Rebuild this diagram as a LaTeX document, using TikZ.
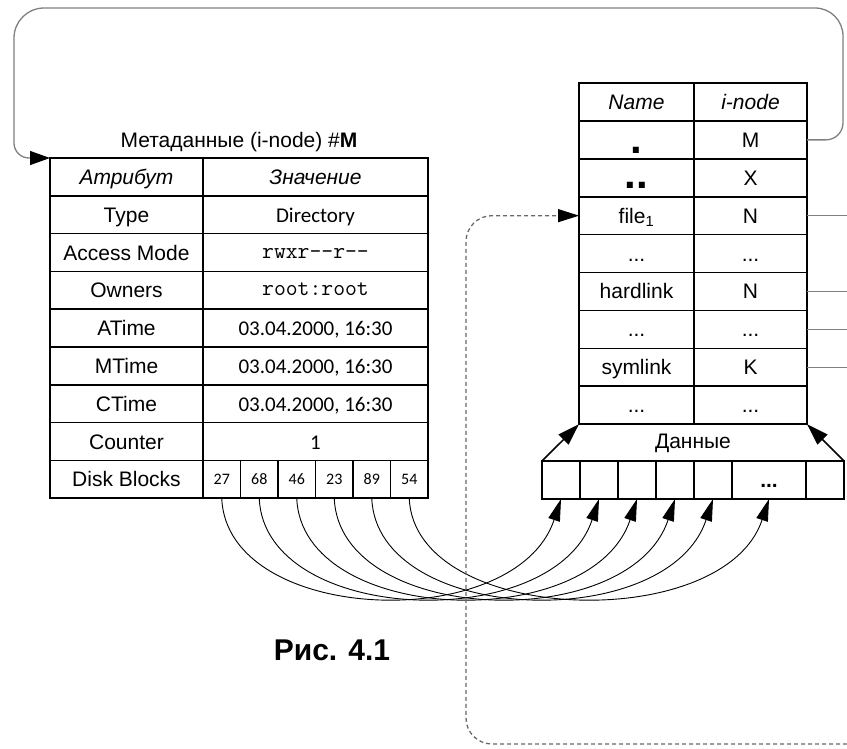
\documentclass[tikz,border=0pt]{standalone}
\usepackage{fontspec}
\setmainfont{Liberation Sans}
\newfontfamily\calfont{Carlito}
\usetikzlibrary{arrows.meta}
\definecolor{lgray}{RGB}{128,128,128}
\definecolor{dgray}{RGB}{105,105,105}
\begin{document}
\begin{tikzpicture}[x=1pt,y=-1pt,
  base/.style={draw, outer sep=0pt, inner sep=0pt, anchor=north west, text height=15pt, text depth=0pt, font=\fontsize{21}{25}\selectfont},
  lcell/.style={base, line width=1.6pt, minimum height=37.8pt},
  rcell/.style={base, line width=1.6pt, minimum height=37.9pt},
  lhead/.style={lcell, line width=2.4pt, font=\fontsize{21}{25}\selectfont\itshape},
  rhead/.style={rcell, line width=2.4pt, font=\fontsize{21}{25}\selectfont\itshape},
  cal/.style={font=\calfont\fontsize{21}{25}\selectfont},
  mono/.style={font=\ttfamily\fontsize{23}{25}\selectfont, text height=11pt},
  blk/.style={base, line width=1.6pt, minimum height=38pt},
  num/.style={lcell, minimum width=37.5pt, font=\calfont\fontsize{16}{18}\selectfont, text height=10pt},
  gline/.style={draw=lgray, line width=1.3pt},
  loopline/.style={draw=lgray, line width=1.3pt, -{Triangle[length=20pt,width=14pt,color=black]}},
  dline/.style={draw=dgray, line width=1.3pt, dash pattern=on 4pt off 3pt, rounded corners=26pt, -{Triangle[length=21pt,width=13pt,color=black]}},
  curve/.style={draw, line width=0.9pt, -{Triangle[length=22pt,width=12pt]}},
  diag/.style={draw, line width=1.5pt, -{Triangle[length=22pt,width=14pt]}},
  plain/.style={inner sep=0pt, outer sep=0pt}
]
\useasboundingbox (0,0) rectangle (847,748);

% ---------- left table ----------
\node[plain, anchor=base, font=\fontsize{21}{25}\selectfont] (title) at (239,147) {Метаданные (i-node) \#\textbf{M}};

\node[lcell, minimum width=153pt] (La1) at (50,195.8) {Type};
\node[lcell, cal, minimum width=225pt] (Lb1) at (203,195.8) {Directory};
\node[lcell, minimum width=153pt] (La2) at (50,233.6) {Access Mode};
\node[lcell, mono, minimum width=225pt] (Lb2) at (203,233.6) {rwxr-{}-r-{}-};
\node[lcell, minimum width=153pt] (La3) at (50,271.4) {Owners};
\node[lcell, mono, minimum width=225pt] (Lb3) at (203,271.4) {root:root};
\node[lcell, minimum width=153pt] (La4) at (50,309.2) {ATime};
\node[lcell, cal, minimum width=225pt] (Lb4) at (203,309.2) {03.04.2000, 16:30};
\node[lcell, minimum width=153pt] (La5) at (50,347.0) {MTime};
\node[lcell, cal, minimum width=225pt] (Lb5) at (203,347.0) {03.04.2000, 16:30};
\node[lcell, minimum width=153pt] (La6) at (50,384.8) {CTime};
\node[lcell, cal, minimum width=225pt] (Lb6) at (203,384.8) {03.04.2000, 16:30};
\node[lcell, minimum width=153pt] (La7) at (50,422.6) {Counter};
\node[lcell, cal, minimum width=225pt] (Lb7) at (203,422.6) {1};
\node[lcell, minimum width=153pt] (La8) at (50,460.4) {Disk Blocks};
\node[num] (D1) at (203,460.4) {27};
\node[num] (D2) at (240.5,460.4) {68};
\node[num] (D3) at (278,460.4) {46};
\node[num] (D4) at (315.5,460.4) {23};
\node[num] (D5) at (353,460.4) {89};
\node[num] (D6) at (390.5,460.4) {54};
\node[lhead, minimum width=153pt] (La0) at (50,158) {Атрибут};
\node[lhead, minimum width=225pt] (Lb0) at (203,158) {Значение};

% ---------- right table ----------
\node[rcell, minimum width=115pt, text height=27pt, font=\fontsize{42}{42}\selectfont\bfseries] (r1a) at (579,120.9) {.};
\node[rcell, minimum width=113pt] (r1b) at (694,120.9) {M};
\node[rcell, minimum width=115pt, text height=21pt, font=\fontsize{42}{42}\selectfont\bfseries] (r2a) at (579,158.8) {..};
\node[rcell, minimum width=113pt] (r2b) at (694,158.8) {X};
\node[rcell, minimum width=115pt] (r3a) at (579,196.7) {file\textsubscript{1}};
\node[rcell, minimum width=113pt] (r3b) at (694,196.7) {N};
\node[rcell, minimum width=115pt] (r4a) at (579,234.6) {...};
\node[rcell, minimum width=113pt] (r4b) at (694,234.6) {...};
\node[rcell, minimum width=115pt] (r5a) at (579,272.5) {hardlink};
\node[rcell, minimum width=113pt] (r5b) at (694,272.5) {N};
\node[rcell, minimum width=115pt] (r6a) at (579,310.4) {...};
\node[rcell, minimum width=113pt] (r6b) at (694,310.4) {...};
\node[rcell, minimum width=115pt] (r7a) at (579,348.3) {symlink};
\node[rcell, minimum width=113pt] (r7b) at (694,348.3) {K};
\node[rcell, minimum width=115pt] (r8a) at (579,386.2) {...};
\node[rcell, minimum width=113pt] (r8b) at (694,386.2) {...};
\node[rhead, minimum width=115pt] (r0a) at (579,83) {Name};
\node[rhead, minimum width=113pt] (r0b) at (694,83) {i-node};

% ---------- data blocks ----------
\node[plain, anchor=base, font=\fontsize{21}{25}\selectfont] (data) at (693,448) {Данные};
\node[blk, minimum width=38pt] (B1) at (542,461) {};
\node[blk, minimum width=38pt] (B2) at (580,461) {};
\node[blk, minimum width=38pt] (B3) at (618,461) {};
\node[blk, minimum width=38pt] (B4) at (656,461) {};
\node[blk, minimum width=38pt] (B5) at (694,461) {};
\node[blk, minimum width=74pt] (B6) at (732,461) {\textbf{...}};
\node[blk, minimum width=38pt] (B7) at (806,461) {};

\draw[diag] (B1.north west) -- (r8a.south west);
\draw[diag] (B7.north east) -- (r8b.south east);

% ---------- curves ----------
\draw[curve] (D1.south) .. controls +(5,127) and +(-45,136) .. (B1.south);
\draw[curve] (D2.south) .. controls +(5,127) and +(-45,136) .. (B2.south);
\draw[curve] (D3.south) .. controls +(5,127) and +(-45,136) .. (B3.south);
\draw[curve] (D4.south) .. controls +(5,127) and +(-45,136) .. (B4.south);
\draw[curve] (D5.south) .. controls +(5,127) and +(-45,136) .. (B5.south);
\draw[curve] (D6.south) .. controls +(5,127) and +(-45,136) .. (B6.south);

% ---------- grey links ----------
\coordinate (edge) at (847,0);
\draw[gline] (r3b.east) -- (r3b.east -| edge);
\draw[gline] (r5b.east) -- (r5b.east -| edge);
\draw[gline] (r6b.east) -- (r6b.east -| edge);
\draw[gline] (r7b.east) -- (r7b.east -| edge);

% ---------- top loop ----------
\coordinate (loopR) at (843,8);
\coordinate (loopL) at (14,8);
\draw[loopline] (r1b.east) [rounded corners=17pt] -- (r1b.east -| loopR) [rounded corners=28pt] -- (loopR) [rounded corners=30pt] -- (loopL) [rounded corners=15pt] -- (loopL |- La0.north west) -- (La0.north west);

% ---------- dashed link ----------
\coordinate (dashBR) at (847,744);
\coordinate (dashBL) at (466,744);
\draw[dline] (dashBR) -- (dashBL) -- (dashBL |- r3a.west) -- (r3a.west);

% ---------- caption ----------
\node[plain, anchor=base, font=\fontsize{30}{34}\selectfont\bfseries] (cap) at (332,660) {Рис. 4.1};
\end{tikzpicture}
\end{document}
